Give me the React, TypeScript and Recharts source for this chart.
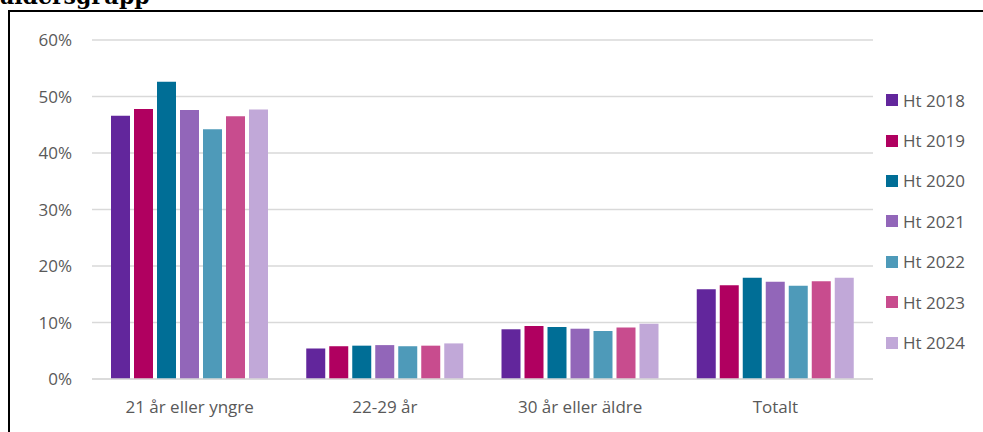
import React from 'react';
import { BarChart, Bar, XAxis, YAxis, CartesianGrid } from 'recharts';

const categories = ['21 år eller yngre', '22-29 år', '30 år eller äldre', 'Totalt'];
const seriesNames = ['Ht 2018', 'Ht 2019', 'Ht 2020', 'Ht 2021', 'Ht 2022', 'Ht 2023', 'Ht 2024'];
const colors = ['#62269C', '#B00060', '#006E96', '#9266B9', '#4E9AB9', '#C84C8E', '#C1A8D8'];

const ht2018 = [46.6, 5.4, 8.8, 15.9];
const ht2019 = [47.8, 5.8, 9.4, 16.6];
const ht2020 = [52.6, 5.9, 9.2, 17.9];
const ht2021 = [47.6, 6.0, 8.9, 17.2];
const ht2022 = [44.2, 5.8, 8.5, 16.5];
const ht2023 = [46.5, 5.9, 9.1, 17.3];
const ht2024 = [47.7, 6.3, 9.8, 17.9];

const yTicks = [0, 10, 20, 30, 40, 50, 60];

const seriesValues = [ht2018, ht2019, ht2020, ht2021, ht2022, ht2023, ht2024];

const data = categories.map((name, i) => {
  const row: Record<string, string | number> = { name };
  seriesNames.forEach((s, j) => {
    row[s] = seriesValues[j][i];
  });
  return row;
});

const font = '"Open Sans", "Liberation Sans", sans-serif';

const LegendList = () => (
  <div style={{ position: 'absolute', left: 886, top: 80, fontFamily: font }}>
    {seriesNames.map((s, i) => (
      <div key={s} style={{ display: 'flex', alignItems: 'center', height: 40.4 }}>
        <div style={{ width: 12, height: 12, background: colors[i], marginRight: 5 }} />
        <span style={{ fontSize: 17, color: '#595959' }}>{s}</span>
      </div>
    ))}
  </div>
);

export default function App() {
  return (
    <div style={{ position: 'fixed', left: 0, top: 0, width: 983, height: 432, overflow: 'hidden', background: '#fff' }}>
      {/* cut-off heading above the frame */}
      <div style={{ position: 'absolute', left: 0, top: -17, fontFamily: '"DejaVu Serif", serif', fontWeight: 'bold', fontSize: 22, lineHeight: '26px', color: '#000' }}>
        åldersgrupp
      </div>
      <div style={{ position: 'absolute', left: 8, top: 10, width: 980, height: 430, borderTop: '2px solid #000', borderLeft: '2px solid #000' }} />
      <div style={{ position: 'absolute', left: 0, top: 0 }}>
        <BarChart
          width={983}
          height={432}
          data={data}
          margin={{ top: 40, right: 110, bottom: 23, left: 0 }}
          barGap={4}
          barCategoryGap={19}
        >
          <CartesianGrid vertical={false} stroke="#d9d9d9" strokeWidth={1.5} />
          <XAxis
            dataKey="name"
            height={30}
            axisLine={{ stroke: '#d9d9d9', strokeWidth: 1.5 }}
            tickLine={false}
            tickSize={0}
            tickMargin={22}
            tick={{ fill: '#595959', fontSize: 17, fontFamily: font }}
          />
          <YAxis
            width={92}
            domain={[0, 60]}
            ticks={yTicks}
            axisLine={false}
            tickLine={false}
            tickSize={0}
            tickMargin={20}
            tickFormatter={(v: number) => `${v}%`}
            tick={{ fill: '#595959', fontSize: 17, fontFamily: font }}
          />
          {seriesNames.map((s, i) => (
            <Bar key={s} dataKey={s} fill={colors[i]} isAnimationActive={false} />
          ))}
        </BarChart>
      </div>
      <LegendList />
    </div>
  );
}
